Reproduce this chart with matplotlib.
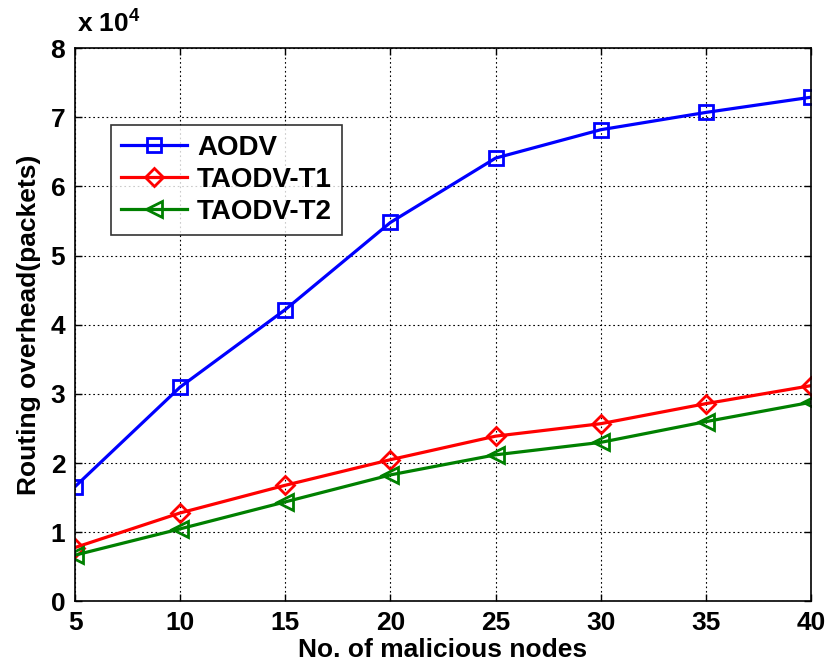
import matplotlib
matplotlib.use("Agg")
import matplotlib.pyplot as plt

plt.rcParams["font.family"] = ["Liberation Sans", "DejaVu Sans"]
plt.rcParams["font.weight"] = "bold"
plt.rcParams["mathtext.fontset"] = "custom"
plt.rcParams["mathtext.bf"] = "Liberation Sans:bold"
plt.rcParams["mathtext.rm"] = "Liberation Sans:bold"

nodes = [5, 10, 15, 20, 25, 30, 35, 40]
aodv = [16600, 31000, 42200, 54800, 64100, 68200, 70700, 72900]
taodv_t1 = [7800, 12800, 16800, 20500, 23900, 25700, 28600, 31200]
taodv_t2 = [6700, 10500, 14400, 18300, 21200, 23000, 26000, 28800]

SCALE = 1e4
FS = 19

fig = plt.figure(figsize=(8.31, 6.68), dpi=100)
ax = fig.add_axes([0.0903, 0.0996, 0.8857, 0.8284])

style = dict(lw=2.3, markersize=10, mew=2, fillstyle="none")
ax.plot(nodes, [v / SCALE for v in aodv], color="#0000ff", marker="s", label="AODV", **style)
ax.plot(nodes, [v / SCALE for v in taodv_t1], color="#ff0000", marker="D", label="TAODV-T1",
        **{**style, "markersize": 9})
ax.plot(nodes, [v / SCALE for v in taodv_t2], color="#008000", marker="<", label="TAODV-T2",
        **{**style, "markersize": 12})

ax.set_xlim(5, 40)
ax.set_ylim(0, 8)
ax.set_xticks(nodes)
ax.set_yticks(range(0, 9))
ax.grid(True, color="black", linestyle=(0, (1.5, 2.5)), linewidth=0.8)
ax.tick_params(direction="in", top=True, right=True, labelsize=FS, length=5, width=1, pad=7)
for lab in ax.get_xticklabels() + ax.get_yticklabels():
    lab.set_fontweight("bold")
for sp in ax.spines.values():
    sp.set_linewidth(1.2)

ax.set_xlabel("No. of malicious nodes", fontsize=FS, fontweight="bold", labelpad=2)
ax.set_ylabel("Routing overhead(packets)", fontsize=FS, fontweight="bold", labelpad=7)
ax.text(0.003, 1.02, r"x 10$^{4}$", transform=ax.transAxes, fontsize=FS,
        fontweight="bold", ha="left", va="bottom")

leg = ax.legend(loc="upper left", bbox_to_anchor=(0.049, 0.861), fontsize=20,
                frameon=True, fancybox=False, edgecolor="black", handlelength=2.4,
                borderpad=0.35, labelspacing=0.22, handletextpad=0.35, borderaxespad=0)
leg.get_frame().set_linewidth(1.2)
for t in leg.get_texts():
    t.set_fontweight("bold")

fig.savefig("out.png", dpi=100)
